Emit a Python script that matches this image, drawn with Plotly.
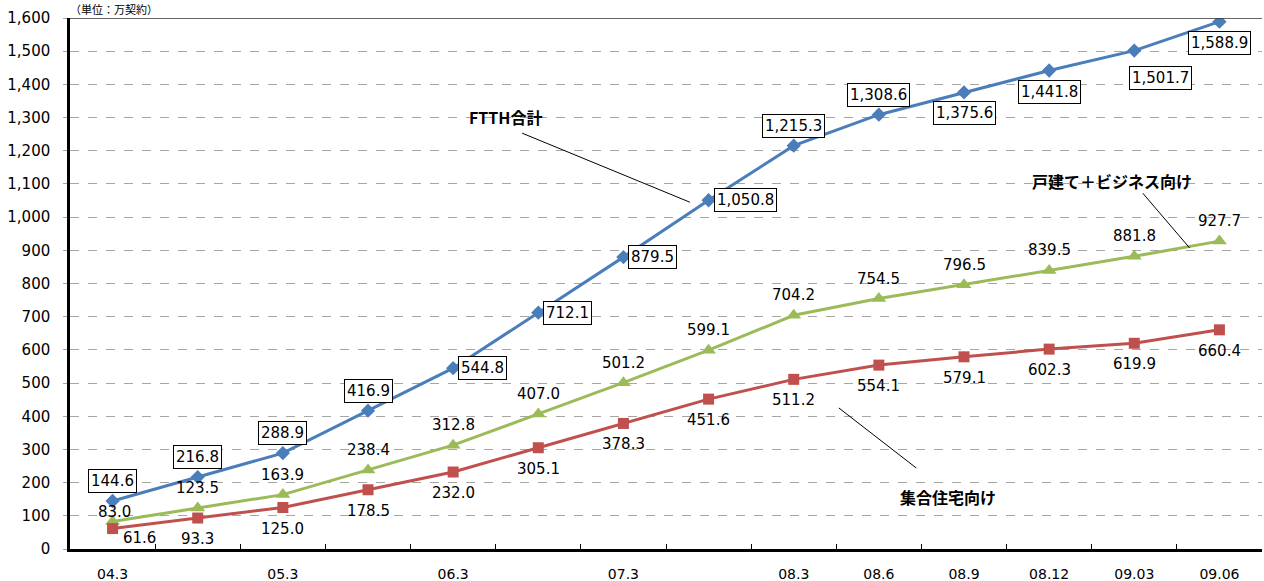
import plotly.graph_objects as go

# ---- data ----
periods = ["04.3", "04.9", "05.3", "05.9", "06.3", "06.9", "07.3", "07.9",
           "08.3", "08.6", "08.9", "08.12", "09.03", "09.06"]
tick_labels = ["04.3", "", "05.3", "", "06.3", "", "07.3", "",
               "08.3", "08.6", "08.9", "08.12", "09.03", "09.06"]
ftth_total = [144.6, 216.8, 288.9, 416.9, 544.8, 712.1, 879.5, 1050.8,
              1215.3, 1308.6, 1375.6, 1441.8, 1501.7, 1588.9]
detached_business = [83.0, 123.5, 163.9, 238.4, 312.8, 407.0, 501.2, 599.1,
                     704.2, 754.5, 796.5, 839.5, 881.8, 927.7]
apartments = [61.6, 93.3, 125.0, 178.5, 232.0, 305.1, 378.3, 451.6,
              511.2, 554.1, 579.1, 602.3, 619.9, 660.4]

series_names = ["FTTH合計", "戸建て＋ビジネス向け", "集合住宅向け"]
unit_text = "（単位：万契約）"

# ---- label placement (style, pixels) ----
ftth_label_pos = ["above", "above", "above", "above", "right", "right", "right", "right",
                  "above", "above", "below", "below", "below_right", "below"]
det_label_pos = ["above_near"] + ["above"] * 13
apt_label_pos = ["right_low"] + ["below"] * 13

shift = {
    "above": (0, 20), "above_near": (2, 9), "below": (0, -21),
    "below_right": (26, -27), "right": (5, 0), "right_low": (27, -9),
}

BLUE, GREEN, RED = "#4a7ebb", "#9bbb59", "#c0504d"
NUMFONT = dict(family="DejaVu Sans, Liberation Sans, sans-serif", size=15, color="#000000")
JPFONT = "Noto Sans CJK JP, sans-serif"

x = list(range(len(periods)))

fig = go.Figure()
fig.add_trace(go.Scatter(x=x, y=ftth_total, mode="lines+markers", name=series_names[0],
                         line=dict(color=BLUE, width=3),
                         marker=dict(symbol="diamond", size=11, color=BLUE)))
fig.add_trace(go.Scatter(x=x, y=detached_business, mode="lines+markers", name=series_names[1],
                         line=dict(color=GREEN, width=3),
                         marker=dict(symbol="triangle-up", size=13, color=GREEN)))
fig.add_trace(go.Scatter(x=x, y=apartments, mode="lines+markers", name=series_names[2],
                         line=dict(color=RED, width=3),
                         marker=dict(symbol="square", size=11, color=RED)))
# invisible trace for the boundary-tick axis
fig.add_trace(go.Scatter(x=[x[0], x[-1]], y=[0, 0], xaxis="x2", mode="markers",
                         marker=dict(opacity=0), hoverinfo="skip", showlegend=False))

annotations = []


def add_labels(vals, positions, boxed):
    for xi, v, p in zip(x, vals, positions):
        dx, dy = shift[p]
        a = dict(x=xi, y=v, xref="x", yref="y", text=f"{v:,.1f}", showarrow=False,
                 font=NUMFONT, xshift=dx, yshift=dy)
        if p == "right":
            a["xanchor"] = "left"
        if boxed:
            a.update(bordercolor="#000000", borderwidth=1, borderpad=2, bgcolor="#ffffff")
        annotations.append(a)


add_labels(ftth_total, ftth_label_pos, True)
add_labels(detached_business, det_label_pos, False)
add_labels(apartments, apt_label_pos, False)

# series name callouts (text position, line start, line end in data units)
callouts = [
    (series_names[0], (4.61, 1302), (4.81, 1253), (6.78, 1045)),
    (series_names[1], (11.74, 1109), (12.10, 1072), (12.65, 907)),
    (series_names[2], (9.81, 157), (8.53, 425), (9.44, 244)),
]
shapes = []
for name, (tx, ty), (x0, y0), (x1, y1) in callouts:
    annotations.append(dict(x=tx, y=ty, xref="x", yref="y", text=f"<b>{name}</b>",
                            showarrow=False, font=dict(family=JPFONT, size=16, color="#000")))
    shapes.append(dict(type="line", xref="x", yref="y", x0=x0, y0=y0, x1=x1, y1=y1,
                       line=dict(color="#000000", width=1)))

annotations.append(dict(x=0, y=1, xref="paper", yref="paper", text=unit_text,
                        showarrow=False, xanchor="left", yanchor="bottom", xshift=-2, yshift=-1,
                        font=dict(family=JPFONT, size=11, color="#000")))

shapes.append(dict(type="line", xref="paper", yref="y", x0=0, x1=1, y0=1600, y1=1600,
                   line=dict(color="#333333", width=1.5)))

fig.update_layout(
    width=1264, height=581,
    margin=dict(l=70, r=2, t=18, b=32, autoexpand=False),
    paper_bgcolor="#ffffff", plot_bgcolor="#ffffff",
    showlegend=False,
    annotations=annotations, shapes=shapes,
    xaxis=dict(range=[-0.5, 13.5], tickmode="array", automargin=False,
               tickvals=[i for i, t in zip(x, tick_labels) if t],
               ticktext=[t for t in tick_labels if t],
               showgrid=False, zeroline=False, showline=True, linecolor="#000000",
               linewidth=2.5, ticks="", ticklabelstandoff=10,
               tickfont=dict(family="DejaVu Sans, sans-serif", size=14, color="#000")),
    xaxis2=dict(range=[-0.5, 13.5], overlaying="x", anchor="y", side="bottom",
                tickmode="array", tickvals=[i + 0.5 for i in x[:-1]], automargin=False,
                ticks="inside", ticklen=5, tickwidth=1, tickcolor="#000000",
                showticklabels=False, showgrid=False, zeroline=False, showline=False),
    yaxis=dict(range=[0, 1600], dtick=100, tickformat=",", automargin=False,
               showgrid=True, gridcolor="#a6a6a6", griddash="dash", gridwidth=1,
               zeroline=False, showline=True, linecolor="#000000", linewidth=2.5,
               ticks="outside", ticklen=4, tickcolor="#a6a6a6", ticklabelstandoff=10,
               tickfont=dict(family="DejaVu Sans, sans-serif", size=15, color="#000")),
)

fig.write_html("out.html", config={"displayModeBar": False},
               post_script="document.body.style.margin='0';document.body.style.overflow='hidden';")
